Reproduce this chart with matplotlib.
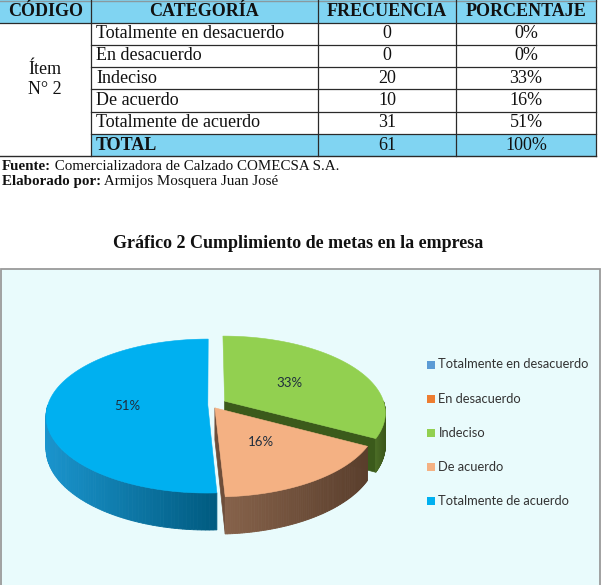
import numpy as np
import matplotlib
matplotlib.use('Agg')
import matplotlib.pyplot as plt
from matplotlib.patches import Rectangle, Polygon
from matplotlib.colors import to_rgb

# ---------------- data ----------------
headers = ['CÓDIGO', 'CATEGORÍA', 'FRECUENCIA', 'PORCENTAJE']
codigo = ['Ítem', 'N° 2']
categorias = ['Totalmente en desacuerdo', 'En desacuerdo', 'Indeciso',
              'De acuerdo', 'Totalmente de acuerdo']
frecuencia = [0, 0, 20, 10, 31]
porcentaje = ['0%', '0%', '33%', '16%', '51%']
total_label = 'TOTAL'
total_frec = 61
total_pct = '100%'
fuente = 'Comercializadora de Calzado COMECSA S.A.'
elaborado = 'Armijos Mosquera Juan José'
titulo = 'Gráfico 2 Cumplimiento de metas en la empresa'

# ---------------- styles ----------------
top_colors = ['#5B9BD5', '#ED7D31', '#92D050', '#F4B183', '#00B0F0']
wall_light = ['#4F86B8', '#C4621F', '#4A6B25', '#86624A', '#1A94CD']
wall_dark = ['#3A6A94', '#9A4A14', '#3A5519', '#5A3E2C', '#005A7F']
radial_colors = ['#3A6A94', '#9A4A14', '#3B5A1B', '#6E4E3A', '#00688F']
explode = [0, 0, 0.10, 0.045, 0.02]

SERIF = 'Liberation Serif'
SANS = 'Lato'
LINE = '#2a2a2a'
HEAD_FILL = '#80D4F2'

fig = plt.figure(figsize=(6.03, 5.85), dpi=100)
ax = fig.add_axes([0, 0, 1, 1])
ax.set_xlim(0, 603)
ax.set_ylim(585, 0)
ax.axis('off')

# ---------------- table ----------------
col_x = [0, 90.5, 318, 456, 596]
head_bot = 22.5
row_h = 22.3
n_rows = len(categorias) + 1
row_tops = [head_bot + i * row_h for i in range(n_rows)]
table_bot = head_bot + n_rows * row_h

ax.add_patch(Rectangle((0, -3), col_x[-1], head_bot + 3, facecolor=HEAD_FILL,
                       edgecolor='none', zorder=1))
ax.add_patch(Rectangle((col_x[1], row_tops[-1]), col_x[-1] - col_x[1], row_h,
                       facecolor=HEAD_FILL, edgecolor='none', zorder=1))
ax.plot([0, col_x[-1]], [0.6, 0.6], color='#8a9aa0', lw=1.0, zorder=2)
# header texts
for j, h in enumerate(headers):
    ax.text((col_x[j] + col_x[j + 1]) / 2, 12, h, ha='center', va='center',
            fontsize=13, fontweight='bold', family=SERIF, color='#111111', zorder=3)
# lines
ax.plot([0, col_x[-1]], [head_bot, head_bot], color=LINE, lw=0.9, zorder=2)
for k in range(1, n_rows):
    y = head_bot + k * row_h
    ax.plot([col_x[1], col_x[-1]], [y, y], color=LINE, lw=0.9, zorder=2)
ax.plot([0, col_x[-1]], [table_bot, table_bot], color=LINE, lw=1.0, zorder=2)
for x in col_x[1:]:
    ax.plot([x, x], [-3, table_bot], color=LINE, lw=0.9, zorder=2)

for i, cat in enumerate(categorias):
    yc = row_tops[i] + row_h / 2
    ax.text(col_x[1] + 5.5, yc, cat, ha='left', va='center', fontsize=13,
            family=SERIF, color='#111111', zorder=3)
    ax.text((col_x[2] + col_x[3]) / 2, yc, str(frecuencia[i]), ha='center',
            va='center', fontsize=13, family=SERIF, color='#111111', zorder=3)
    ax.text((col_x[3] + col_x[4]) / 2, yc, porcentaje[i], ha='center',
            va='center', fontsize=13, family=SERIF, color='#111111', zorder=3)
yc = row_tops[-1] + row_h / 2
ax.text(col_x[1] + 5.5, yc, total_label, ha='left', va='center', fontsize=13,
        fontweight='bold', family=SERIF, color='#111111', zorder=3)
ax.text((col_x[2] + col_x[3]) / 2, yc, str(total_frec), ha='center', va='center',
        fontsize=13, family=SERIF, color='#111111', zorder=3)
ax.text((col_x[3] + col_x[4]) / 2, yc, total_pct, ha='center', va='center',
        fontsize=13, family=SERIF, color='#111111', zorder=3)
# merged code cell
ax.text(col_x[1] / 2, 70, codigo[0], ha='center', va='center', fontsize=13,
        family=SERIF, color='#111111')
ax.text(col_x[1] / 2, 89, codigo[1], ha='center', va='center', fontsize=13,
        family=SERIF, color='#111111')

# source lines
t1 = ax.text(1.5, 167, 'Fuente:', ha='left', va='center', fontsize=10.8,
             fontweight='bold', family=SERIF, color='#111111')
ax.annotate(' ' + fuente, xy=(1, 0), xycoords=t1, ha='left', va='bottom',
            fontsize=10.8, family=SERIF, color='#111111')
t2 = ax.text(1.5, 182, 'Elaborado por:', ha='left', va='center', fontsize=10.8,
             fontweight='bold', family=SERIF, color='#111111')
ax.annotate(' ' + elaborado, xy=(1, 0), xycoords=t2, ha='left', va='bottom',
            fontsize=10.8, family=SERIF, color='#111111')

# title
ax.text(298, 243, titulo, ha='center', va='center', fontsize=13,
        fontweight='bold', family=SERIF, color='#111111')

# ---------------- chart box ----------------
ax.add_patch(Rectangle((0.6, 269), 599.4, 330, facecolor='#E9FBFC',
                       edgecolor='#9A9A9A', lw=1.3, zorder=0.5))

# ---------------- 3D pie ----------------
CX, CY, A, S, K, D0 = 211, 405, 160, 75.4, 0.143, 31.7


def proj(X, Z, h=0.0):
    w = 1 + K * Z
    return CX + A * X / w, CY - S * Z / w + h * D0 / w


def lerp(c1, c2, f):
    a, b = np.array(to_rgb(c1)), np.array(to_rgb(c2))
    return tuple(a + (b - a) * f)


total = sum(frecuencia)
slices = []
acc = 0
for i, v in enumerate(frecuencia):
    t0 = acc / total * 360
    acc += v
    t1a = acc / total * 360
    if v == 0:
        continue
    mid = np.radians((t0 + t1a) / 2)
    ox, oz = explode[i] * np.sin(mid), explode[i] * np.cos(mid)
    slices.append((np.cos(mid), i, t0, t1a, mid, ox, oz, v))
slices.sort(key=lambda s: -s[0])

for _, i, t0, t1a, mid, ox, oz, v in slices:
    z = 3
    # radial face at end angle (visible when facing viewer)
    if np.cos(np.radians(t1a + 90)) < -0.01:
        r = np.radians(t1a)
        pts = [proj(ox, oz), proj(ox + np.sin(r), oz + np.cos(r)),
               proj(ox + np.sin(r), oz + np.cos(r), 1), proj(ox, oz, 1)]
        ax.add_patch(Polygon(pts, closed=True, facecolor=radial_colors[i],
                             edgecolor=radial_colors[i], lw=0.5, zorder=z))
    # outer wall (front half)
    lo, hi = max(t0, 90), min(t1a, 270)
    if hi > lo:
        th = np.radians(np.linspace(lo, hi, 80))
        xs = [proj(ox + np.sin(t), oz + np.cos(t))[0] for t in th]
        xmin, xmax = min(xs), max(xs)
        for a0, a1 in zip(th[:-1], th[1:]):
            p = [proj(ox + np.sin(a0), oz + np.cos(a0)),
                 proj(ox + np.sin(a1), oz + np.cos(a1)),
                 proj(ox + np.sin(a1), oz + np.cos(a1), 1),
                 proj(ox + np.sin(a0), oz + np.cos(a0), 1)]
            xm = (p[0][0] + p[1][0]) / 2
            f = (xm - xmin) / max(xmax - xmin, 1e-6)
            col = lerp(wall_light[i], wall_dark[i], f)
            ax.add_patch(Polygon(p, closed=True, facecolor=col, edgecolor=col,
                                 lw=0.6, zorder=z))
    # top face
    th = np.radians(np.linspace(t0, t1a, 200))
    pts = [proj(ox, oz)] + [proj(ox + np.sin(t), oz + np.cos(t)) for t in th]
    ax.add_patch(Polygon(pts, closed=True, facecolor=top_colors[i],
                         edgecolor=top_colors[i], lw=0.4, zorder=z))
    # data label
    lx, ly = proj(ox + 0.5 * np.sin(mid), oz + 0.5 * np.cos(mid))
    ax.text(lx, ly, f'{round(100 * v / total)}%', ha='center', va='center',
            fontsize=9.5, family=SANS, color='#1F2D3D', zorder=5)

# ---------------- legend ----------------
leg_y0, leg_dy = 364.5, 34.1
for k, cat in enumerate(categorias):
    y = leg_y0 + k * leg_dy
    ax.add_patch(Rectangle((427, y - 4), 8, 8, facecolor=top_colors[k],
                           edgecolor='none', zorder=4))
    ax.text(438.5, y, cat, ha='left', va='center', fontsize=9.3, family=SANS,
            color='#333333', zorder=4)

fig.savefig('out.png', dpi=100)
